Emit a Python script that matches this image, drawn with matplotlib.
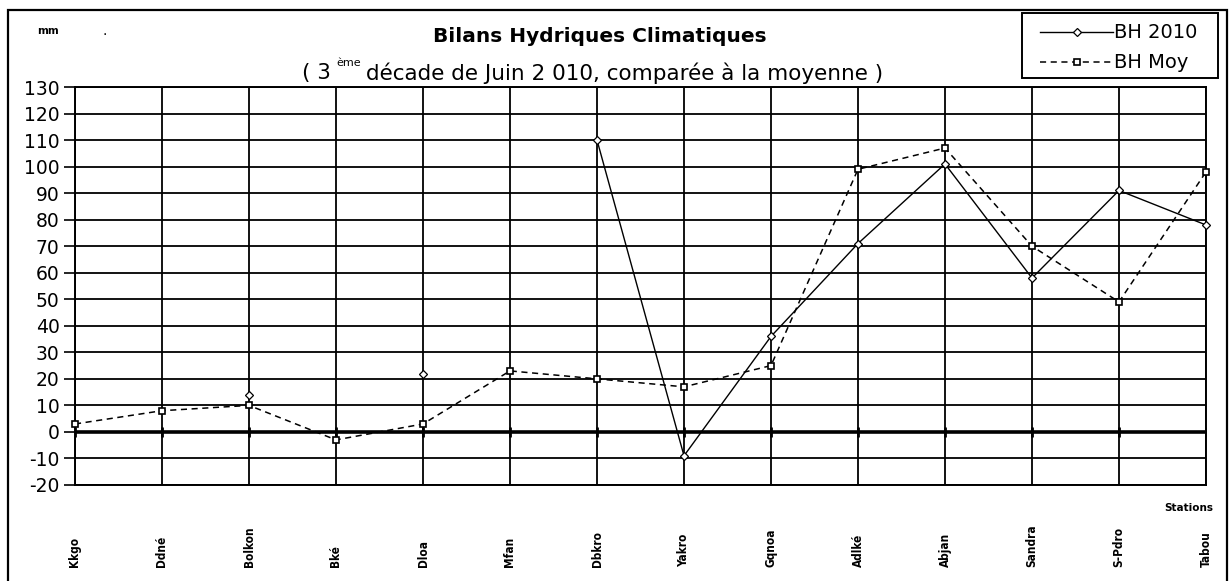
import numpy as np
import matplotlib
matplotlib.use("Agg")
import matplotlib.pyplot as plt
import matplotlib.transforms as mtransforms
from matplotlib.patches import Rectangle
from matplotlib.lines import Line2D

stations = ["Kkgo", "Ddné", "Bolkon", "Bké", "Dloa", "Mfan", "Dbkro",
            "Yakro", "Gqnoa", "Adlké", "Abjan", "Sandra", "S-Pdro", "Tabou"]
bh_2010 = [np.nan, np.nan, 14, np.nan, 22, np.nan, 110,
           -9, 36, 71, 101, 58, 91, 78]
bh_moy = [3, 8, 10, -3, 3, 23, 20,
          17, 25, 99, 107, 70, 49, 98]
yticks = list(range(-20, 131, 10))
series_names = ["BH 2010", "BH Moy"]

plt.rcParams['font.family'] = ['DejaVu Sans']

W, H = 1231, 581
fig = plt.figure(figsize=(W / 100, H / 100), dpi=100)
fig.patch.set_facecolor('white')

def fx(px):
    return px / W

def fy(py):
    return 1 - py / H

# figure border
fig.add_artist(Rectangle((fx(8), fy(585)), fx(1227) - fx(8), fy(10) - fy(585),
                         transform=fig.transFigure, fill=False, lw=1.6,
                         edgecolor='black'))

left, right, top, bottom = 75, 1206, 87, 485
ax = fig.add_axes([fx(left), fy(bottom), fx(right) - fx(left), fy(top) - fy(bottom)])

x = np.arange(len(stations))
ax.set_xlim(0, len(stations) - 1)
ax.set_ylim(-20, 130)
ax.set_yticks(yticks)
ax.set_yticklabels([str(v) for v in yticks], fontsize=13.5)
ax.set_xticks(x)
ax.set_xticklabels([])
ax.grid(True, color='black', lw=1.3)
ax.set_axisbelow(True)
ax.tick_params(axis='y', direction='out', length=8, width=1.2, pad=3)
ax.tick_params(axis='x', length=0)
for s in ax.spines.values():
    s.set_linewidth(1.4)
ax.axhline(0, color='black', lw=2.6, zorder=2)
ax.plot(x, np.zeros(len(x)), linestyle='none', marker='|', ms=7, mew=2,
        color='black', zorder=2)

style1 = dict(color='black', lw=1.0, marker='D', ms=4.5, mfc='white',
              mec='black', mew=0.9)
style2 = dict(color='black', lw=1.1, ls=(0, (4, 3)), marker='s', ms=4.5,
              mfc='white', mec='black', mew=1.2)
ax.plot(x, bh_2010, zorder=4, clip_on=False, **style1)
ax.plot(x, bh_moy, zorder=3, clip_on=False, **style2)

# x labels (rotated, bottom aligned)
blend = mtransforms.blended_transform_factory(ax.transData, fig.transFigure)
for i, s in enumerate(stations):
    ax.text(i, fy(567), s, transform=blend, rotation=90, ha='center',
            va='bottom', fontsize=8.5, fontweight='bold',
            fontstretch='condensed')

fig.text(fx(1213), fy(508), "Stations", ha='right', va='center', fontsize=7.5,
         fontweight='bold')

# titles
fig.text(fx(600), fy(37), "Bilans Hydriques Climatiques", ha='center',
         va='center', fontsize=14.5, fontweight='bold')
fig.text(fx(331), fy(73), "( 3", ha='right', va='center', fontsize=15.5)
fig.text(fx(336), fy(63), "ème", ha='left', va='center', fontsize=8)
fig.text(fx(366), fy(73), "décade de Juin 2 010, comparée à la moyenne )",
         ha='left', va='center', fontsize=15.5)
fig.text(fx(48), fy(31), "mm", ha='center', va='center', fontsize=7.5,
         fontweight='bold')
fig.text(fx(105), fy(31), ".", ha='center', va='center', fontsize=10)

# legend (drawn manually)
fig.add_artist(Rectangle((fx(1022), fy(78)), fx(1218) - fx(1022), fy(13) - fy(78),
                         transform=fig.transFigure, fill=True, facecolor='white',
                         lw=1.4, edgecolor='black', zorder=5))
for row_y, name, st in [(32, series_names[0], style1), (62, series_names[1], style2)]:
    fig.add_artist(Line2D([fx(1040), fx(1113)], [fy(row_y), fy(row_y)],
                          transform=fig.transFigure, zorder=6,
                          **{k: v for k, v in st.items() if k != 'marker'}))
    fig.add_artist(Line2D([fx(1077)], [fy(row_y)], transform=fig.transFigure,
                          zorder=7, ls='none', marker=st['marker'], ms=st['ms'],
                          mfc='white', mec='black', mew=st['mew']))
    fig.text(fx(1114), fy(row_y), name, ha='left', va='center', fontsize=14,
             zorder=7)

fig.savefig("out.png", dpi=100, facecolor='white')
